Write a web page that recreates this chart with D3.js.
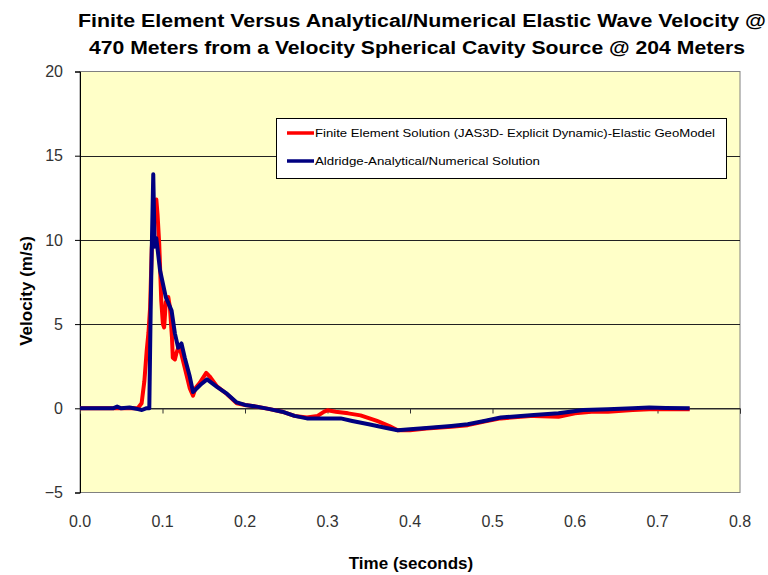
<!DOCTYPE html>
<html>
<head>
<meta charset="utf-8">
<script src="https://cdn.jsdelivr.net/npm/d3@7"></script>
<style>
  html, body { margin: 0; padding: 0; background: #ffffff; }
  svg { display: block; }
  text { font-family: Arial, "Liberation Sans", sans-serif; }
</style>
</head>
<body>
<svg id="chart" width="768" height="575"></svg>
<script>
// Chart text
const titleLines = [
  "Finite Element Versus Analytical/Numerical Elastic Wave Velocity @",
  "470 Meters from a Velocity Spherical Cavity Source @ 204 Meters"
];
const xTitle = "Time (seconds)";
const yTitle = "Velocity (m/s)";
const seriesNames = [
  "Finite Element Solution (JAS3D- Explicit Dynamic)-Elastic GeoModel",
  "Aldridge-Analytical/Numerical Solution"
];

// Axis ticks
const xTicks = [0, 0.1, 0.2, 0.3, 0.4, 0.5, 0.6, 0.7, 0.8];
const yTicks = [-5, 0, 5, 10, 15, 20];

// Finite element solution: time (s) and velocity (m/s)
const feTime = [0, 0.06, 0.07, 0.0747, 0.078, 0.0808, 0.083, 0.085, 0.087, 0.089, 0.0905, 0.0925, 0.094, 0.096,
  0.0985, 0.1005, 0.102, 0.104, 0.107, 0.109, 0.1115, 0.1125, 0.115, 0.117, 0.12, 0.123, 0.127, 0.133, 0.137,
  0.14, 0.145, 0.153, 0.157, 0.166, 0.178, 0.19, 0.2, 0.214, 0.23, 0.245, 0.26, 0.275, 0.288, 0.296, 0.3, 0.31,
  0.325, 0.34, 0.36, 0.375, 0.385, 0.4, 0.42, 0.45, 0.47, 0.49, 0.51, 0.55, 0.58, 0.6, 0.62, 0.64, 0.67, 0.69,
  0.71, 0.739];
const feVel = [0, 0, 0, 0.3, 1.6, 3.4, 4.5, 6.0, 9.5, 11.0, 11.8, 12.4, 11.5, 9.8,
  6.4, 5.0, 4.8, 6.3, 6.6, 6.0, 4.2, 3.0, 2.9, 3.3, 3.7, 3.2, 2.4, 1.2, 0.75,
  1.2, 1.5, 2.1, 1.9, 1.3, 0.85, 0.3, 0.2, 0.1, -0.05, -0.2, -0.45, -0.55, -0.45, -0.2, -0.12, -0.2,
  -0.3, -0.42, -0.75, -1.05, -1.3, -1.3, -1.2, -1.1, -1.0, -0.78, -0.6, -0.45, -0.5, -0.3, -0.2, -0.2, -0.1, -0.05,
  -0.05, -0.05];

// Aldridge analytical/numerical solution: time (s) and velocity (m/s)
const alTime = [0, 0.04, 0.045, 0.05, 0.06, 0.065, 0.07, 0.075, 0.08, 0.084, 0.0857, 0.087, 0.0888, 0.0905,
  0.0925, 0.097, 0.104, 0.111, 0.115, 0.119, 0.123, 0.127, 0.133, 0.137, 0.146, 0.154, 0.166, 0.178, 0.19,
  0.2, 0.214, 0.23, 0.245, 0.26, 0.275, 0.3, 0.316, 0.33, 0.35, 0.37, 0.385, 0.4, 0.42, 0.45, 0.47, 0.49,
  0.51, 0.55, 0.58, 0.61, 0.64, 0.67, 0.69, 0.71, 0.739];
const alVel = [0, 0, 0.1, 0, 0.05, 0, -0.05, -0.1, 0, 0, 6.0, 9.5, 13.9, 9.6,
  10.1, 8.2, 6.6, 5.8, 4.45, 3.6, 3.85, 3.0, 1.9, 0.97, 1.4, 1.72, 1.27, 0.87, 0.35,
  0.2, 0.1, -0.05, -0.2, -0.45, -0.6, -0.6, -0.6, -0.75, -0.95, -1.15, -1.3, -1.25, -1.17, -1.05, -0.95, -0.75,
  -0.55, -0.4, -0.3, -0.1, -0.06, 0, 0.05, 0.02, 0];

const svg = d3.select("#chart");
const plot = { left: 80, right: 740, top: 71.5, bottom: 492.5 };

const x = d3.scaleLinear().domain([0, 0.8]).range([plot.left, plot.right]);
const y = d3.scaleLinear().domain([-5, 20]).range([plot.bottom, plot.top]);

// Plot area fill and border
svg.append("rect")
  .attr("x", plot.left).attr("y", plot.top)
  .attr("width", plot.right - plot.left).attr("height", plot.bottom - plot.top)
  .attr("fill", "#ffffc8").attr("stroke", "#808080").attr("stroke-width", 1);

// Horizontal gridlines
svg.append("g")
  .selectAll("line")
  .data(yTicks.filter(d => d > -5 && d < 20))
  .join("line")
  .attr("x1", plot.left).attr("x2", plot.right)
  .attr("y1", d => Math.round(y(d)) + 0.5).attr("y2", d => Math.round(y(d)) + 0.5)
  .attr("stroke", "#222").attr("stroke-width", 1);

// Y axis
const yAxis = svg.append("g")
  .attr("transform", `translate(${plot.left},0)`)
  .call(d3.axisLeft(y).tickValues(yTicks).tickFormat(d3.format("d")).tickSize(5).tickPadding(12));
yAxis.select(".domain").attr("stroke", "#000");
yAxis.selectAll(".tick line").attr("stroke", "#000");
yAxis.selectAll(".tick text")
  .attr("font-size", 16).attr("fill", "#333")
  .attr("font-family", "Arial, 'Liberation Sans', sans-serif");

// X axis: line at zero velocity with ticks pointing down
const xAxis = svg.append("g")
  .attr("transform", `translate(0,${Math.round(y(0)) + 0.5})`)
  .call(d3.axisBottom(x).tickValues(xTicks).tickSize(5).tickFormat(""));
xAxis.select(".domain").attr("stroke", "#333");
xAxis.selectAll(".tick line").attr("stroke", "#333");

// X tick labels below the plot area
svg.append("g")
  .selectAll("text")
  .data(xTicks)
  .join("text")
  .attr("x", d => x(d)).attr("y", 527)
  .attr("text-anchor", "middle")
  .attr("font-size", 16).attr("fill", "#333")
  .text(d3.format(".1f"));

// Series lines
const line = d3.line().x(d => x(d[0])).y(d => y(d[1]));
const feData = d3.zip(feTime, feVel);
const alData = d3.zip(alTime, alVel);

svg.append("path")
  .datum(feData)
  .attr("d", line)
  .attr("fill", "none").attr("stroke", "#ff0000").attr("stroke-width", 4)
  .attr("stroke-linejoin", "round");

svg.append("path")
  .datum(alData)
  .attr("d", line)
  .attr("fill", "none").attr("stroke", "#000080").attr("stroke-width", 4)
  .attr("stroke-linejoin", "round");

// Titles
const title = svg.append("g").attr("font-weight", "bold").attr("fill", "#000");
title.append("text")
  .attr("x", 422).attr("y", 27).attr("text-anchor", "middle")
  .attr("font-size", 18).attr("textLength", 688).attr("lengthAdjust", "spacingAndGlyphs")
  .text(titleLines[0]);
title.append("text")
  .attr("x", 417).attr("y", 54).attr("text-anchor", "middle")
  .attr("font-size", 18).attr("textLength", 656).attr("lengthAdjust", "spacingAndGlyphs")
  .text(titleLines[1]);

svg.append("text")
  .attr("x", 411).attr("y", 569).attr("text-anchor", "middle")
  .attr("font-size", 17).attr("font-weight", "bold")
  .text(xTitle);

svg.append("text")
  .attr("transform", "translate(32,291) rotate(-90)")
  .attr("text-anchor", "middle")
  .attr("font-size", 17).attr("font-weight", "bold")
  .text(yTitle);

// Legend
const legend = svg.append("g");
legend.append("rect")
  .attr("x", 276.5).attr("y", 118.5).attr("width", 450).attr("height", 60)
  .attr("fill", "#ffffff").attr("stroke", "#000").attr("stroke-width", 1);
const legendColors = ["#ff0000", "#000080"];
const legendRows = legend.selectAll("g.row")
  .data(seriesNames)
  .join("g")
  .attr("class", "row")
  .attr("transform", (d, i) => `translate(0,${133 + i * 28})`);
legendRows.append("line")
  .attr("x1", 287).attr("x2", 314).attr("y1", 0).attr("y2", 0)
  .attr("stroke", (d, i) => legendColors[i]).attr("stroke-width", 3.5);
legendRows.append("text")
  .attr("x", 315).attr("y", 4)
  .attr("font-size", 11.5).attr("fill", "#000")
  .attr("textLength", (d, i) => i === 0 ? 400 : 225)
  .attr("lengthAdjust", "spacingAndGlyphs")
  .text(d => d);
</script>
</body>
</html>
